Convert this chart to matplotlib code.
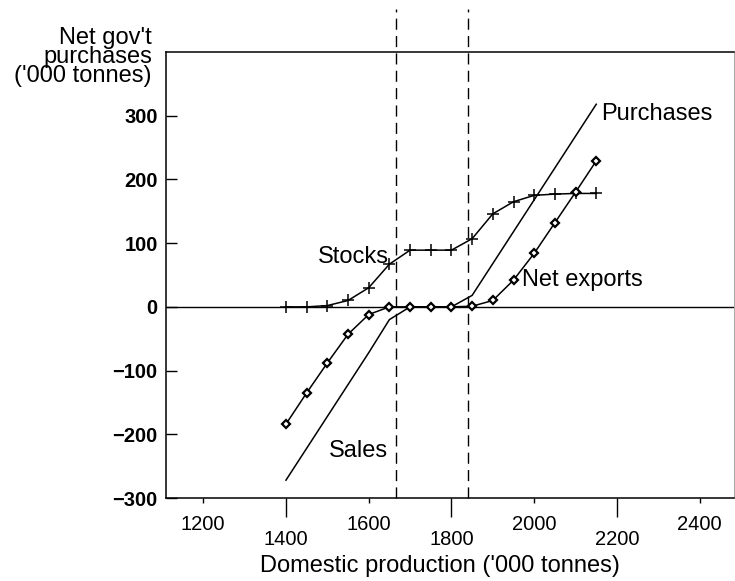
import matplotlib
matplotlib.use("Agg")
import matplotlib.pyplot as plt
from matplotlib.ticker import FixedLocator

plt.rcParams['font.family'] = ['Liberation Sans', 'DejaVu Sans']

# production levels ('000 tonnes)
prod = [1400, 1450, 1500, 1550, 1600, 1650, 1700, 1750, 1800,
        1850, 1900, 1950, 2000, 2050, 2100, 2150]

# government stocks, net exports and sales/purchases ('000 tonnes)
stocks = [0, 0, 2, 10, 30, 67, 89, 89, 89, 107, 146, 165, 175, 177, 178, 178]
net_exports = [-184, -135, -88, -43, -12, 0, 0, 0, 0, 1, 10, 42, 84, 132, 180, 229]
sales_purch = [-272, -222, -172, -122, -72, -20, 0, 0, 0, 18, 68, 118, 168, 218, 268, 318]

# intervention thresholds
thresholds = [1667, 1840]

fig = plt.figure(figsize=(7.35, 5.81), dpi=100)
ax = fig.add_axes([166 / 735, 1 - 498 / 581, (734 - 166) / 735, (498 - 52) / 581])

ax.axhline(0, color='black', lw=1.0, zorder=1)
for t in thresholds:
    ax.plot([t, t], [-300, 468], color='black', lw=1.0,
            linestyle=(0, (8, 4.5)), clip_on=False, zorder=1)

ax.plot(prod, sales_purch, color='black', lw=1.1, zorder=2)
ax.plot(prod, stocks, color='black', lw=1.1, marker='+', markersize=8,
        markeredgewidth=1.1, zorder=3)
ax.plot(prod, net_exports, color='black', lw=1.1, marker='D', markersize=4.5,
        markerfacecolor='white', markeredgecolor='black', markeredgewidth=1.6,
        zorder=4)

ax.text(1562, 78, 'Stocks', fontsize=17, ha='center', va='center')
ax.text(1970, 42, 'Net exports', fontsize=17, ha='left', va='center')
ax.text(2161, 302, 'Purchases', fontsize=17, ha='left', va='center')
ax.text(1576, -226, 'Sales', fontsize=17, ha='center', va='center')

ax.set_xlim(1110, 2483)
ax.set_ylim(-300, 400)

# staggered x labels: short ticks high, long ticks low
ax.xaxis.set_major_locator(FixedLocator([1200, 1600, 2000, 2400]))
ax.xaxis.set_minor_locator(FixedLocator([1400, 1800, 2200]))
ax.xaxis.set_minor_formatter(plt.FuncFormatter(lambda v, p: f'{v:.0f}'))
ax.tick_params(axis='x', which='major', direction='out', length=3.6, width=1.0,
               pad=9, labelsize=14.5)
ax.tick_params(axis='x', which='minor', direction='out', length=14, width=1.0,
               pad=9, labelsize=14.5)

ax.set_yticks([-300, -200, -100, 0, 100, 200, 300])
ax.tick_params(axis='y', direction='in', length=8, width=1.0, pad=6,
               labelsize=14.5)
for lab in ax.get_yticklabels():
    lab.set_fontweight('bold')

for side in ['left', 'bottom', 'top']:
    ax.spines[side].set_linewidth(1.1)
ax.spines['right'].set_linewidth(0.6)
ax.spines['right'].set_color('#999999')

fig.text(440 / 735, 1 - 566 / 581, "Domestic production ('000 tonnes)",
         fontsize=17, ha='center', va='center')
fig.text(152 / 735, 1 - 57 / 581, "Net gov't\npurchases\n('000 tonnes)",
         fontsize=17, ha='right', va='center', multialignment='right',
         linespacing=0.82)

fig.savefig('out.png', dpi=100)
